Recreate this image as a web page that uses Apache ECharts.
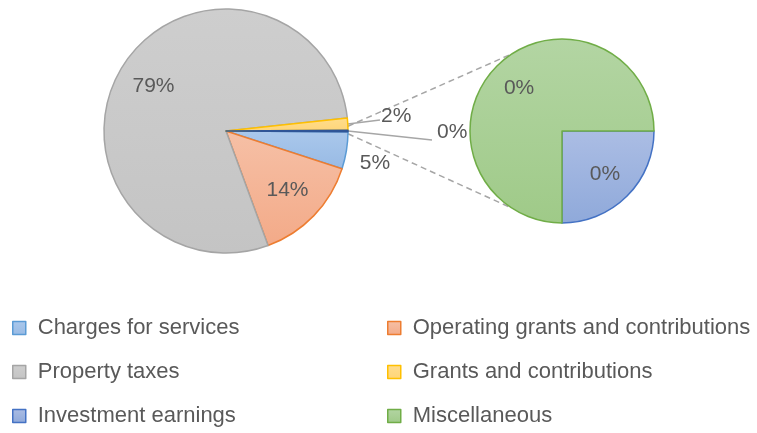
<!DOCTYPE html>
<html>
<head>
<meta charset="utf-8">
<script src="https://cdn.jsdelivr.net/npm/echarts@6/dist/echarts.min.js"></script>
<style>
  html, body { margin: 0; padding: 0; background: #fff; }
  #chart { width: 757px; height: 433px; }
</style>
</head>
<body>
<div id="chart"></div>
<script>
// share of revenue (percent)
const mainNames = ['Charges for services', 'Operating grants and contributions', 'Property taxes', 'Grants and contributions'];
const mainValues = [4.9, 14.4, 78.9, 1.6];
const otherNames = ['Investment earnings', 'Miscellaneous'];
const otherValues = [0.05, 0.15];
const otherLabel = 'Other';

const leftLegend = ['Charges for services', 'Property taxes', 'Investment earnings'];
const rightLegend = ['Operating grants and contributions', 'Grants and contributions', 'Miscellaneous'];

// colours: [fill top, fill bottom, border]
const colors = {
    'Charges for services': ['#aac8ec', '#98bae4', '#5b9bd5'],
    'Operating grants and contributions': ['#f6c0a6', '#f3aa88', '#ed7d31'],
    'Property taxes': ['#cecece', '#c4c4c4', '#a5a5a5'],
    'Grants and contributions': ['#ffdd8e', '#ffd577', '#ffc000'],
    'Investment earnings': ['#abbde4', '#8fa9da', '#4472c4'],
    'Miscellaneous': ['#b3d5a3', '#9fca88', '#70ad47'],
    'Other': ['#2e5a8e', '#2e5a8e', '#2f5597']
};

const CX = 226, CY = 131, R = 122;
const CX2 = 562, CY2 = 131, R2 = 92;
const TXT = '#595959';
const FONT = 'Liberation Sans';

const otherTotal = otherValues.reduce((a, b) => a + b, 0);
const total = mainValues.reduce((a, b) => a + b, 0) + otherTotal;
const otherAng = otherTotal / total * 360;
const startTheta = otherAng / 2; // clockwise degrees from 3 o'clock

const rad = d => d * Math.PI / 180;
const pct = v => Math.round(v / total * 100) + '%';

const fill = name => {
    const c = colors[name];
    return new echarts.graphic.LinearGradient(0, 0, 0, 1, [
        { offset: 0, color: c[0] }, { offset: 1, color: c[1] }
    ]);
};

// mid angles of the slices
const mainAll = mainValues.concat([otherTotal]);
const mainMid = [];
let acc = startTheta;
mainAll.forEach(v => {
    const a = v / total * 360;
    mainMid.push(acc + a / 2);
    acc += a;
});
const secMid = [];
let acc2 = 0;
otherValues.forEach(v => {
    const a = v / otherTotal * 360;
    secMid.push(acc2 + a / 2);
    acc2 += a;
});

// outside labels: offset from centre, and leader lines
const outside = {
    0: { dx: 149, dy: 32, align: 'center', line: false },
    3: { dx: 155, dy: -15, align: 'left', line: true, lx: -1, ly: 4 },
    4: { dx: 211, dy: 1, align: 'left', line: true, lx: -5, ly: 8 }
};

const mainData = mainNames.map((n, i) => ({
    name: n, value: mainValues[i],
    itemStyle: { color: fill(n), borderColor: colors[n][2] },
    label: { position: outside[i] ? 'outside' : 'inside' },
    labelLine: { show: !!(outside[i] && outside[i].line) }
}));
mainData.push({
    name: otherLabel, value: otherTotal,
    itemStyle: { color: colors.Other[0], borderColor: colors.Other[2] },
    label: { position: 'outside' },
    labelLine: { show: true }
});

const secData = otherNames.map((n, i) => ({
    name: n, value: otherValues[i],
    itemStyle: { color: fill(n), borderColor: colors[n][2] }
}));

const labelStyle = { color: TXT, fontSize: 21, fontFamily: FONT };

// dashed connectors from the "other" slice to the secondary pie
const connAng = 57;
const p1a = [CX + R * Math.cos(rad(-otherAng / 2)), CY + R * Math.sin(rad(-otherAng / 2)) - 4];
const p1b = [CX + R * Math.cos(rad(otherAng / 2)), CY + R * Math.sin(rad(otherAng / 2)) + 2];
const p2a = [CX2 + R2 * Math.cos(rad(180 + connAng)), CY2 + R2 * Math.sin(rad(180 + connAng))];
const p2b = [CX2 + R2 * Math.cos(rad(180 - connAng)), CY2 + R2 * Math.sin(rad(180 - connAng))];
const dashStyle = { stroke: '#a6a6a6', lineWidth: 1.5, lineDash: [6, 4] };

const legendBase = {
    orient: 'vertical',
    top: 317,
    height: 120,
    padding: 0,
    itemWidth: 13,
    itemHeight: 13,
    itemGap: 22,
    icon: 'rect',
    selectedMode: false,
    textStyle: { color: TXT, fontSize: 22, fontFamily: FONT, lineHeight: 22, padding: [0, 0, 0, 7] },
    itemStyle: { borderWidth: 1.5 }
};

const option = {
    animation: false,
    legend: [
        Object.assign({}, legendBase, { left: 12, data: leftLegend }),
        Object.assign({}, legendBase, { left: 387, data: rightLegend })
    ],
    graphic: [
        { type: 'line', shape: { x1: p1a[0], y1: p1a[1], x2: p2a[0], y2: p2a[1] }, style: dashStyle, silent: true },
        { type: 'line', shape: { x1: p1b[0], y1: p1b[1], x2: p2b[0], y2: p2b[1] }, style: dashStyle, silent: true }
    ],
    series: [
        {
            type: 'pie',
            center: [CX, CY],
            radius: R,
            startAngle: -startTheta,
            clockwise: true,
            avoidLabelOverlap: false,
            emphasis: { disabled: true },
            itemStyle: { borderWidth: 1.5 },
            label: Object.assign({ formatter: p => pct(p.value) }, labelStyle),
            labelLine: { lineStyle: { color: '#a6a6a6', width: 1.5 } },
            labelLayout: function (params) {
                const i = params.dataIndex;
                const m = rad(mainMid[i]);
                if (outside[i]) {
                    const o = outside[i];
                    const x = CX + o.dx, y = CY + o.dy;
                    const res = { x: x, y: y, align: o.align, verticalAlign: 'middle' };
                    if (o.line) {
                        res.labelLinePoints = [
                            [CX + R * Math.cos(m), CY + R * Math.sin(m)],
                            [x + o.lx, y + o.ly],
                            [x + o.lx, y + o.ly]
                        ];
                    }
                    return res;
                }
                return {
                    x: CX + R * 0.7 * Math.cos(m),
                    y: CY + R * 0.7 * Math.sin(m),
                    align: 'center', verticalAlign: 'middle'
                };
            },
            data: mainData
        },
        {
            type: 'pie',
            center: [CX2, CY2],
            radius: R2,
            startAngle: 0,
            clockwise: true,
            emphasis: { disabled: true },
            itemStyle: { borderWidth: 1.5 },
            label: Object.assign({ position: 'inside', formatter: p => pct(p.value) }, labelStyle),
            labelLine: { show: false },
            labelLayout: function (params) {
                const m = rad(secMid[params.dataIndex]);
                return {
                    x: CX2 + R2 * 0.66 * Math.cos(m),
                    y: CY2 + R2 * 0.66 * Math.sin(m),
                    align: 'center', verticalAlign: 'middle'
                };
            },
            data: secData
        }
    ]
};

const chart = echarts.init(document.getElementById('chart'));
chart.setOption(option);
</script>
</body>
</html>
